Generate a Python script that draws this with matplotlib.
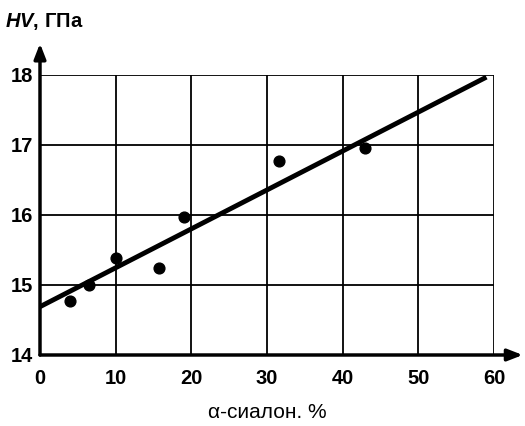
import matplotlib
matplotlib.use("Agg")
import matplotlib.pyplot as plt

plt.rcParams['font.family'] = ['Liberation Sans', 'DejaVu Sans']
plt.rcParams['mathtext.fontset'] = 'custom'
plt.rcParams['mathtext.it'] = 'Liberation Sans:italic:bold'

# measured points
alpha_sialon = [4.0, 6.5, 10.0, 15.7, 19.0, 31.6, 43.0]
hardness = [14.77, 15.0, 15.39, 15.24, 15.97, 16.77, 16.96]

# fitted line end points
fit_x = [0, 59]
fit_y = [14.69, 17.97]

x_ticks = [0, 10, 20, 30, 40, 50, 60]
y_ticks = [14, 15, 16, 17, 18]

fig = plt.figure(figsize=(5.25, 4.26), dpi=100)
ax = fig.add_axes([40/525, 71/426, 454/525, 280/426])
ax.set_xlim(0, 60)
ax.set_ylim(14, 18)

for s in ax.spines.values():
    s.set_visible(False)

for xv in x_ticks[1:]:
    ax.axvline(xv, color='black', lw=1.3, zorder=1)
for yv in y_ticks[1:]:
    ax.axhline(yv, color='black', lw=1.3, zorder=1)

# axes with arrows
ax.annotate('', xy=(0, 18.45), xytext=(0, 14), xycoords='data',
            arrowprops=dict(arrowstyle='-|>,head_length=0.9,head_width=0.35',
                            lw=2.5, color='black', shrinkA=0, shrinkB=0),
            annotation_clip=False, zorder=4)
ax.annotate('', xy=(63.8, 14), xytext=(0, 14), xycoords='data',
            arrowprops=dict(arrowstyle='-|>,head_length=0.9,head_width=0.35',
                            lw=2.5, color='black', shrinkA=0, shrinkB=0),
            annotation_clip=False, zorder=4)

ax.plot(fit_x, fit_y, color='black', lw=3.5, solid_capstyle='butt', zorder=3)
ax.scatter(alpha_sialon, hardness, s=60, color='black', zorder=5)

ax.set_xticks(x_ticks)
ax.set_yticks(y_ticks)
ax.tick_params(axis='x', length=0, pad=10, labelsize=14.5)
ax.tick_params(axis='y', length=0, pad=5, labelsize=14.5)
for lab in ax.get_xticklabels() + ax.get_yticklabels():
    lab.set_fontweight('bold')

ax.set_xlabel('α-сиалон. %', fontsize=15, labelpad=11)
fig.text(5/525, 1 - 21/426, '$HV$, ГПа', fontsize=14.5, fontweight='bold',
         va='center', ha='left')

fig.savefig('out.png', dpi=100)
